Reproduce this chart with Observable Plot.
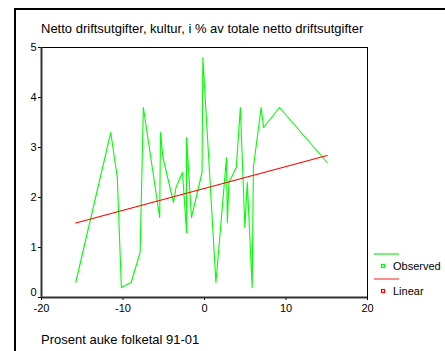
<!DOCTYPE html>
<html>
<head>
<meta charset="utf-8">
<script src="https://cdn.jsdelivr.net/npm/d3@7"></script>
<script src="https://cdn.jsdelivr.net/npm/@observablehq/plot@0.6"></script>
<style>
  html, body { margin: 0; padding: 0; background: #fff; }
  #wrap { position: relative; width: 445px; height: 351px; overflow: hidden; background: #fff;
          font-family: "Liberation Sans", Arial, sans-serif; color: #000; }
  #chart svg { position: absolute; left: 0; top: 0; }
  .abs { position: absolute; white-space: nowrap; }
</style>
</head>
<body>
<div id="wrap">
  <div class="abs" style="left:14px;top:8px;width:460px;height:360px;border-left:2px solid #000;border-top:2px solid #000;"></div>
  <div id="chart"></div>
  <div id="title" class="abs" style="left:41px;top:21.5px;font-size:13px;line-height:13px;"></div>
  <div id="xlabel" class="abs" style="left:41px;top:333px;font-size:13px;line-height:13px;"></div>
  <svg id="legend" class="abs" style="left:370px;top:245px;" width="75" height="60"></svg>
</div>
<script>
const titleText = "Netto driftsutgifter, kultur, i % av totale netto driftsutgifter";
const xLabelText = "Prosent auke folketal 91-01";
const seriesNames = ["Observed", "Linear"];
const seriesColors = ["#00ff00", "#ff0000"];

const obsX = [-15.8, -11.5, -10.7, -10.2, -9.0, -7.9, -7.5, -5.5, -5.4, -5.1, -3.8, -3.5, -2.7, -2.2, -2.2, -1.6, -0.3, -0.2, 1.4, 2.7, 2.8, 3.0, 3.9, 4.4, 4.95, 5.25, 5.85, 6.0, 6.95, 7.25, 9.2, 15.05];
const obsY = [0.3, 3.3, 2.4, 0.2, 0.3, 0.9, 3.8, 1.6, 3.3, 2.8, 1.9, 2.2, 2.5, 1.3, 3.2, 1.6, 2.5, 4.8, 0.3, 2.8, 1.5, 2.3, 2.6, 3.8, 1.4, 2.3, 0.2, 2.6, 3.8, 3.4, 3.8, 2.7];

const linX = [-15.8, 15.05];
const linY = [1.49, 2.84];

const xTicks = [-20, -10, 0, 10, 20];
const yTicks = [0, 1, 2, 3, 4, 5];

const observed = obsX.map((x, i) => ({x, y: obsY[i]}));
const linear = linX.map((x, i) => ({x, y: linY[i]}));

const chart = Plot.plot({
  width: 445,
  height: 351,
  marginLeft: 41,
  marginRight: 78,
  marginTop: 47,
  marginBottom: 54,
  style: {fontFamily: "'Liberation Sans', Arial, sans-serif", fontSize: "11px", color: "#000", background: "transparent", overflow: "visible"},
  x: {domain: [xTicks[0], xTicks[xTicks.length - 1]]},
  y: {domain: [yTicks[0], yTicks[yTicks.length - 1]]},
  marks: [
    Plot.ruleY([yTicks[yTicks.length - 1]], {stroke: "#000", strokeWidth: 1}),
    Plot.ruleX([xTicks[xTicks.length - 1]], {stroke: "#000", strokeWidth: 1}),
    Plot.line(observed, {x: "x", y: "y", stroke: seriesColors[0], strokeWidth: 1.1}),
    Plot.line(linear, {x: "x", y: "y", stroke: seriesColors[1], strokeWidth: 1.1}),
    Plot.axisX({ticks: xTicks, tickSize: 3, tickPadding: 4, tickFormat: d => String(d), label: null}),
    Plot.axisY({ticks: yTicks, tickSize: 3, tickPadding: 2, tickFormat: d => d === 0 ? "" : String(d), label: null}),
    Plot.text([yTicks[0]], {y: d => d, text: d => String(d), frameAnchor: "left", textAnchor: "end", dx: -5, dy: -5}),
    Plot.ruleX([xTicks[0]], {stroke: "#333", strokeWidth: 2}),
    Plot.ruleY([yTicks[0]], {stroke: "#333", strokeWidth: 2})
  ]
});
document.getElementById("chart").appendChild(chart);
document.getElementById("title").textContent = titleText;
document.getElementById("xlabel").textContent = xLabelText;

// legend (offset 370,245)
const lg = d3.select("#legend");
const lineColors = ["#55ee55", "#ff7070"];
const rowY = [9, 34];
seriesNames.forEach((name, i) => {
  const y = rowY[i];
  lg.append("line").attr("x1", 4).attr("x2", 29).attr("y1", y).attr("y2", y)
    .attr("stroke", lineColors[i]).attr("stroke-width", 1.6);
  lg.append("rect").attr("x", 11.5).attr("y", y + 10.5).attr("width", 3).attr("height", 3)
    .attr("fill", "#fff").attr("stroke", seriesColors[i]).attr("stroke-width", 1.2);
  lg.append("text").attr("x", 23).attr("y", y + 16)
    .attr("font-family", "'Liberation Sans', Arial, sans-serif").attr("font-size", 11)
    .attr("fill", "#000").text(name);
});
</script>
</body>
</html>
